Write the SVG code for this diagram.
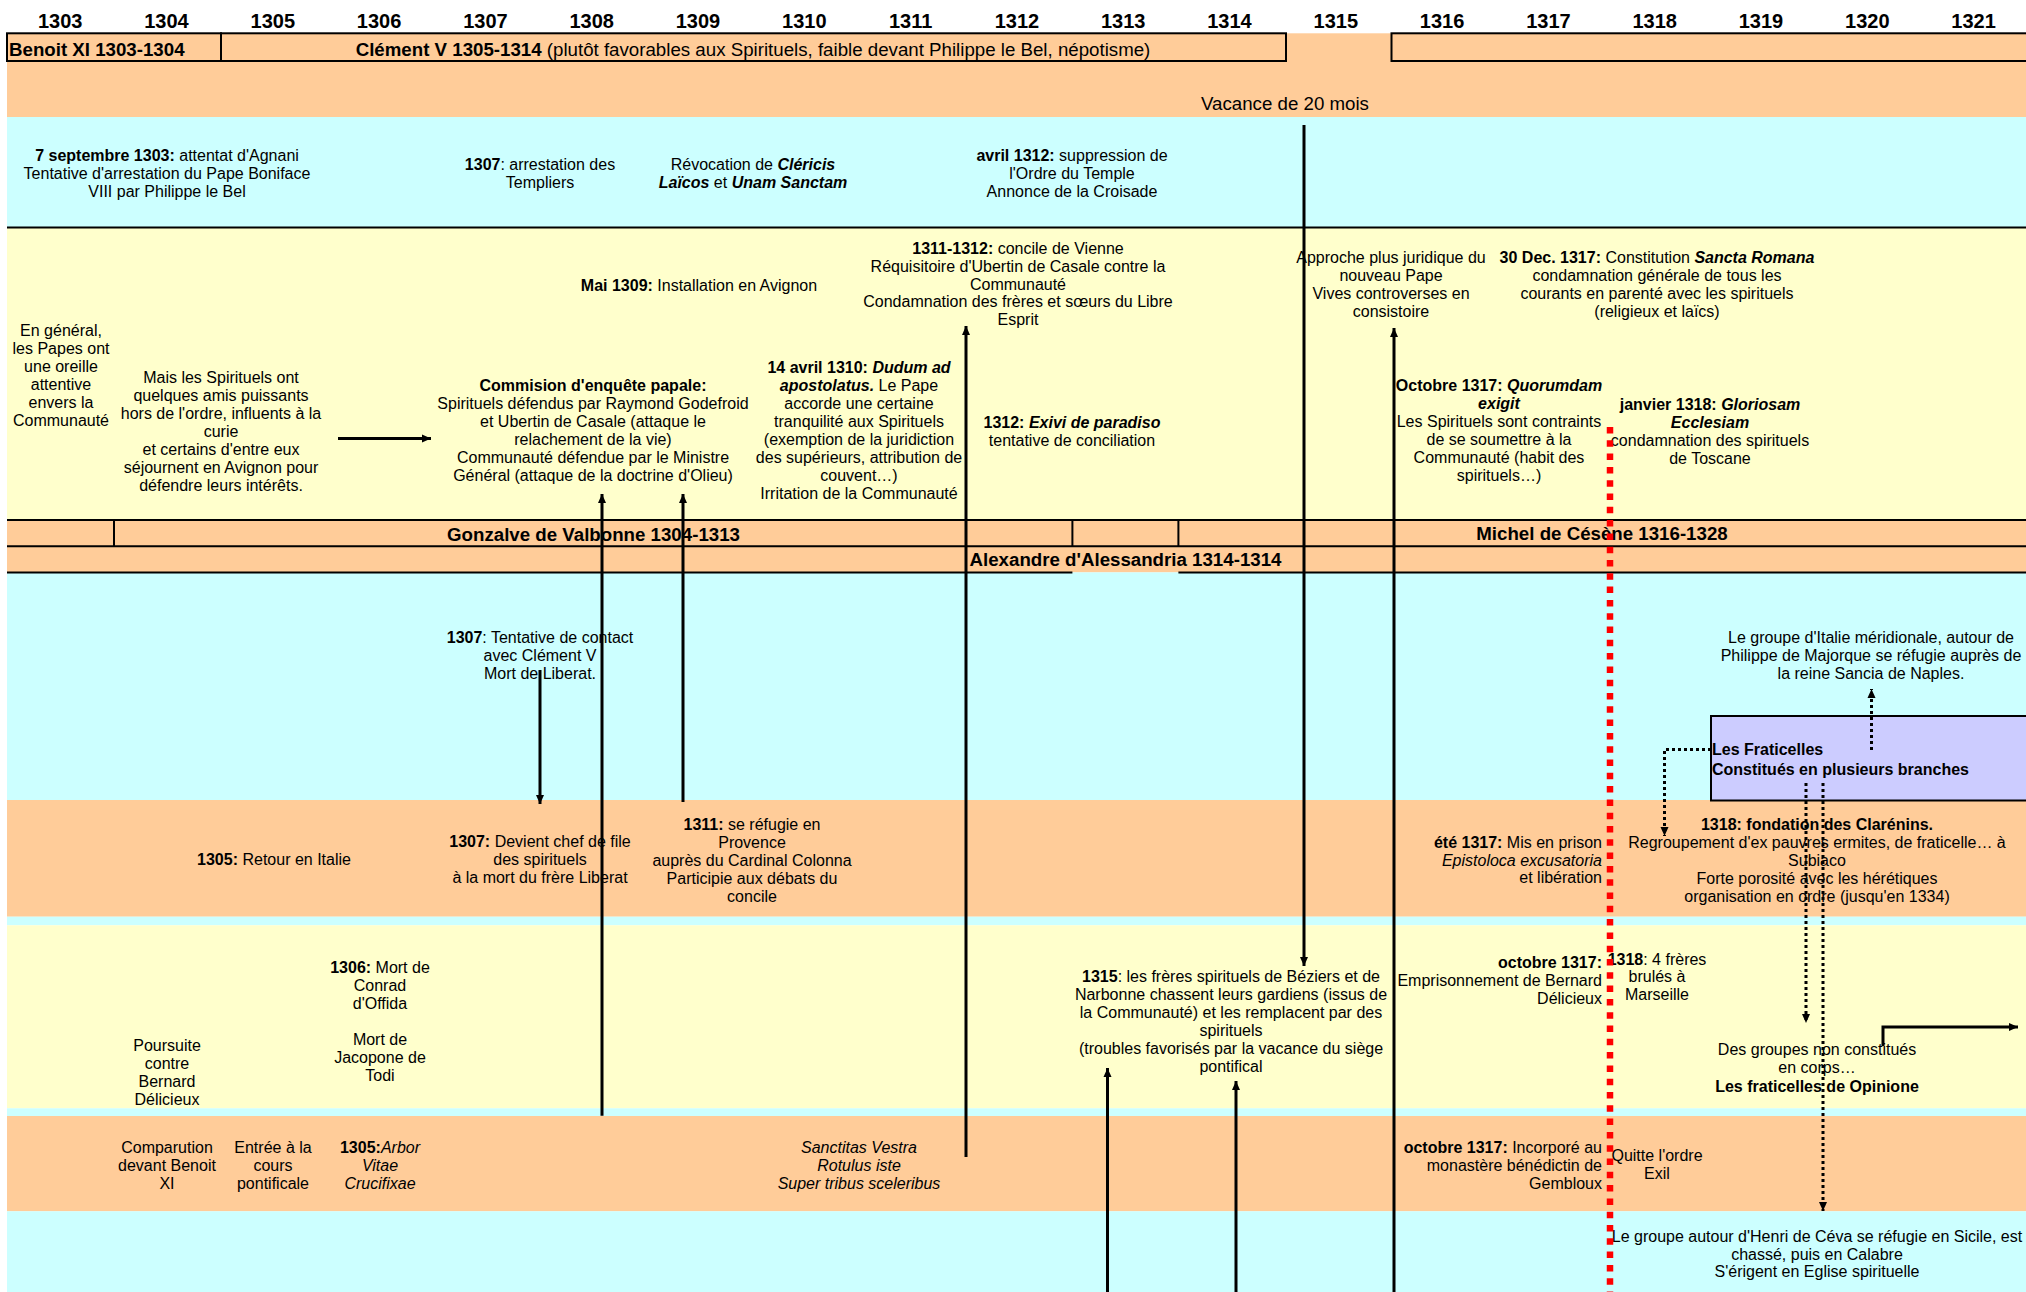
<svg xmlns="http://www.w3.org/2000/svg" width="2026" height="1292" viewBox="0 0 2026 1292">
<defs>
<style>
text{font-family:"Liberation Sans",Arial,sans-serif;font-size:16px;fill:#000}
.c{text-anchor:middle}
.r{text-anchor:end}
.b{font-weight:bold}
.i{font-style:italic}
.yr{font-size:20px;font-weight:bold;text-anchor:middle}
.h{font-size:18.7px}
.or{fill:#FFCC99}
.bl{fill:#CCFFFF}
.ye{fill:#FFFFCC}
.ln{stroke:#000;stroke-width:2;fill:none}
.ar{stroke:#000;stroke-width:3;fill:none;marker-end:url(#ah)}
.dt{stroke:#000;stroke-width:3;stroke-dasharray:3 3;fill:none;marker-end:url(#ah)}
.rd{stroke:#FF0000;stroke-width:6.5;stroke-dasharray:6.5 6.8;fill:none}
</style>
<marker id="ah" viewBox="0 0 10 10" refX="9" refY="5" markerWidth="10" markerHeight="10" markerUnits="userSpaceOnUse" orient="auto"><path d="M0,1 L9,5 L0,9 z" fill="#000"/></marker>
</defs>
<rect width="2026" height="1292" fill="#FFFFFF"/>
<g id="bands">
<rect x="7" y="33.3" width="2019" height="83.7" class="or"/>
<rect x="7" y="117" width="2019" height="110.5" class="bl"/>
<rect x="7" y="227.5" width="2019" height="292.5" class="ye"/>
<rect x="7" y="520" width="2019" height="52.4" class="or"/>
<rect x="7" y="572.4" width="2019" height="227.6" class="bl"/>
<rect x="7" y="800" width="2019" height="116.7" class="or"/>
<rect x="7" y="916.7" width="2019" height="8.6" class="bl"/>
<rect x="7" y="925.3" width="2019" height="183" class="ye"/>
<rect x="7" y="1108.3" width="2019" height="7.7" class="bl"/>
<rect x="7" y="1116" width="2019" height="95.3" class="or"/>
<rect x="7" y="1211.3" width="2019" height="80.7" class="bl"/>
<line x1="7" y1="227.5" x2="2026" y2="227.5" class="ln"/>
<line x1="7" y1="520" x2="2026" y2="520" class="ln"/>
<line x1="7" y1="546.3" x2="2026" y2="546.3" class="ln"/>
<line x1="7" y1="572.4" x2="1072.4" y2="572.4" class="ln"/>
<line x1="1178.4" y1="572.4" x2="2026" y2="572.4" class="ln"/>
<line x1="114" y1="520" x2="114" y2="546.3" class="ln"/>
<line x1="1072.4" y1="520" x2="1072.4" y2="546.3" class="ln"/>
<line x1="1178.4" y1="520" x2="1178.4" y2="546.3" class="ln"/>
</g>
<g id="years">
<text x="60.2" y="27.5" class="yr">1303</text>
<text x="166.5" y="27.5" class="yr">1304</text>
<text x="272.8" y="27.5" class="yr">1305</text>
<text x="379.1" y="27.5" class="yr">1306</text>
<text x="485.4" y="27.5" class="yr">1307</text>
<text x="591.7" y="27.5" class="yr">1308</text>
<text x="698" y="27.5" class="yr">1309</text>
<text x="804.3" y="27.5" class="yr">1310</text>
<text x="910.6" y="27.5" class="yr">1311</text>
<text x="1016.9" y="27.5" class="yr">1312</text>
<text x="1123.2" y="27.5" class="yr">1313</text>
<text x="1229.5" y="27.5" class="yr">1314</text>
<text x="1335.8" y="27.5" class="yr">1315</text>
<text x="1442.1" y="27.5" class="yr">1316</text>
<text x="1548.4" y="27.5" class="yr">1317</text>
<text x="1654.7" y="27.5" class="yr">1318</text>
<text x="1761" y="27.5" class="yr">1319</text>
<text x="1867.3" y="27.5" class="yr">1320</text>
<text x="1973.6" y="27.5" class="yr">1321</text>
</g>
<g id="pope-benoit">
<rect x="7" y="33.3" width="214" height="27.7" class="ln"/>
<text x="9" y="56" class="h b">Benoit XI 1303-1304</text>
</g>
<g id="pope-clement">
<rect x="221" y="33.3" width="1065" height="27.7" class="ln"/>
<text x="753" y="56" class="h c"><tspan class="b">Clément V 1305-1314</tspan> (plutôt favorables aux Spirituels, faible devant Philippe le Bel, népotisme)</text>
</g>
<g id="pope-next">
<rect x="1391.5" y="33.3" width="640" height="27.7" class="ln"/>
</g>
<g id="vacance">
<text x="1285" y="110" class="h c">Vacance de 20 mois</text>
</g>
<g id="general-gonzalve">
<text x="593.5" y="540.5" class="h b c">Gonzalve de Valbonne 1304-1313</text>
</g>
<g id="general-alexandre">
<text x="1125.5" y="565.7" class="h b c">Alexandre d'Alessandria 1314-1314</text>
</g>
<g id="general-michel">
<text x="1602" y="540.4" class="h b c">Michel de Césène 1316-1328</text>
</g>
<g id="ev-agnani">
<text x="167" y="160.7" class="c"><tspan class="b">7 septembre 1303:</tspan> attentat d'Agnani</text>
<text x="167" y="178.7" class="c">Tentative d'arrestation du Pape Boniface</text>
<text x="167" y="196.7" class="c">VIII par Philippe le Bel</text>
</g>
<g id="ev-templiers">
<text x="540" y="169.7" class="c"><tspan class="b">1307</tspan>: arrestation des</text>
<text x="540" y="187.7" class="c">Templiers</text>
</g>
<g id="ev-revocation">
<text x="753" y="169.7" class="c">Révocation de <tspan class="b i">Cléricis</tspan></text>
<text x="753" y="187.7" class="c"><tspan class="b i">Laïcos</tspan> et <tspan class="b i">Unam Sanctam</tspan></text>
</g>
<g id="ev-temple">
<text x="1072" y="160.7" class="c"><tspan class="b">avril 1312:</tspan> suppression de</text>
<text x="1072" y="178.7" class="c">l'Ordre du Temple</text>
<text x="1072" y="196.7" class="c">Annonce de la Croisade</text>
</g>
<g id="ev-papes">
<text x="61" y="336.3" class="c">En général,</text>
<text x="61" y="354.3" class="c">les Papes ont</text>
<text x="61" y="372.3" class="c">une oreille</text>
<text x="61" y="390.3" class="c">attentive</text>
<text x="61" y="408.3" class="c">envers la</text>
<text x="61" y="426.3" class="c">Communauté</text>
</g>
<g id="ev-amis">
<text x="221" y="383" class="c">Mais les Spirituels ont</text>
<text x="221" y="401" class="c">quelques amis puissants</text>
<text x="221" y="419" class="c">hors de l'ordre, influents à la</text>
<text x="221" y="437" class="c">curie</text>
<text x="221" y="455" class="c">et certains d'entre eux</text>
<text x="221" y="473" class="c">séjournent en Avignon pour</text>
<text x="221" y="491" class="c">défendre leurs intérêts.</text>
</g>
<g id="ev-commission">
<text x="593" y="391.3" class="c b">Commision d'enquête papale:</text>
<text x="593" y="409.3" class="c">Spirituels défendus par Raymond Godefroid</text>
<text x="593" y="427.3" class="c">et Ubertin de Casale (attaque le</text>
<text x="593" y="445.3" class="c">relachement de la vie)</text>
<text x="593" y="463.3" class="c">Communauté défendue par le Ministre</text>
<text x="593" y="481.3" class="c">Général (attaque de la doctrine d'Olieu)</text>
</g>
<g id="ev-avignon">
<text x="699" y="291" class="c"><tspan class="b">Mai 1309:</tspan> Installation en Avignon</text>
</g>
<g id="ev-vienne">
<text x="1018" y="254.3" class="c"><tspan class="b">1311-1312:</tspan> concile de Vienne</text>
<text x="1018" y="271.9" class="c">Réquisitoire d'Ubertin de Casale contre la</text>
<text x="1018" y="289.5" class="c">Communauté</text>
<text x="1018" y="307.1" class="c">Condamnation des frères et sœurs du Libre</text>
<text x="1018" y="324.7" class="c">Esprit</text>
</g>
<g id="ev-dudum">
<text x="859" y="373.3" class="c b">14 avril 1310: <tspan class="i">Dudum ad</tspan></text>
<text x="859" y="391.3" class="c"><tspan class="b i">apostolatus.</tspan> Le Pape</text>
<text x="859" y="409.3" class="c">accorde une certaine</text>
<text x="859" y="427.3" class="c">tranquilité aux Spirituels</text>
<text x="859" y="445.3" class="c">(exemption de la juridiction</text>
<text x="859" y="463.3" class="c">des supérieurs, attribution de</text>
<text x="859" y="481.3" class="c">couvent…)</text>
<text x="859" y="499.3" class="c">Irritation de la Communauté</text>
</g>
<g id="ev-exivi">
<text x="1072" y="428" class="c b">1312: <tspan class="i">Exivi de paradiso</tspan></text>
<text x="1072" y="446" class="c">tentative de conciliation</text>
</g>
<g id="ev-approche">
<text x="1391" y="262.7" class="c">Approche plus juridique du</text>
<text x="1391" y="280.7" class="c">nouveau Pape</text>
<text x="1391" y="298.7" class="c">Vives controverses en</text>
<text x="1391" y="316.7" class="c">consistoire</text>
</g>
<g id="ev-sancta">
<text x="1657" y="263.3" class="c"><tspan class="b">30 Dec. 1317:</tspan> Constitution <tspan class="b i">Sancta Romana</tspan></text>
<text x="1657" y="281.3" class="c">condamnation générale de tous les</text>
<text x="1657" y="299.3" class="c">courants en parenté avec les spirituels</text>
<text x="1657" y="317.3" class="c">(religieux et laïcs)</text>
</g>
<g id="ev-quorumdam">
<text x="1499" y="391.3" class="c b">Octobre 1317: <tspan class="i">Quorumdam</tspan></text>
<text x="1499" y="409.3" class="c b i">exigit</text>
<text x="1499" y="427.3" class="c">Les Spirituels sont contraints</text>
<text x="1499" y="445.3" class="c">de se soumettre à la</text>
<text x="1499" y="463.3" class="c">Communauté (habit des</text>
<text x="1499" y="481.3" class="c">spirituels…)</text>
</g>
<g id="ev-gloriosam">
<text x="1710" y="409.7" class="c b">janvier 1318: <tspan class="i">Gloriosam</tspan></text>
<text x="1710" y="427.7" class="c b i">Ecclesiam</text>
<text x="1710" y="445.7" class="c">condamnation des spirituels</text>
<text x="1710" y="463.7" class="c">de Toscane</text>
</g>
<g id="ev-contact">
<text x="540" y="642.5" class="c"><tspan class="b">1307</tspan>: Tentative de contact</text>
<text x="540" y="660.5" class="c">avec Clément V</text>
<text x="540" y="678.5" class="c">Mort de Liberat.</text>
</g>
<g id="ev-italie-meridionale">
<text x="1871" y="642.5" class="c">Le groupe d'Italie méridionale, autour de</text>
<text x="1871" y="660.5" class="c">Philippe de Majorque se réfugie auprès de</text>
<text x="1871" y="678.5" class="c">la reine Sancia de Naples.</text>
</g>
<g id="fraticelles">
<rect x="1711" y="716" width="330" height="84.5" fill="#CCCCFF" class="ln" style="fill:#CCCCFF"/>
<text x="1712" y="755.3" class="b">Les Fraticelles</text>
<text x="1712" y="774.7" class="b">Constitués en plusieurs branches</text>
</g>
<g id="ev-retour">
<text x="274" y="865.3" class="c"><tspan class="b">1305:</tspan> Retour en Italie</text>
</g>
<g id="ev-chef">
<text x="540" y="847" class="c"><tspan class="b">1307:</tspan> Devient chef de file</text>
<text x="540" y="865" class="c">des spirituels</text>
<text x="540" y="883" class="c">à la mort du frère Liberat</text>
</g>
<g id="ev-provence">
<text x="752" y="829.7" class="c"><tspan class="b">1311:</tspan> se réfugie en</text>
<text x="752" y="847.7" class="c">Provence</text>
<text x="752" y="865.7" class="c">auprès du Cardinal Colonna</text>
<text x="752" y="883.7" class="c">Participie aux débats du</text>
<text x="752" y="901.7" class="c">concile</text>
</g>
<g id="ev-prison">
<text x="1602" y="847.7" class="r"><tspan class="b">été 1317:</tspan> Mis en prison</text>
<text x="1602" y="865.5" class="r i">Epistoloca excusatoria</text>
<text x="1602" y="883" class="r">et libération</text>
</g>
<g id="ev-clarenins">
<text x="1817" y="829.7" class="c b">1318: fondation des Clarénins.</text>
<text x="1817" y="847.7" class="c">Regroupement d'ex pauvres ermites, de fraticelle… à</text>
<text x="1817" y="865.7" class="c">Subiaco</text>
<text x="1817" y="883.7" class="c">Forte porosité avec les hérétiques</text>
<text x="1817" y="901.7" class="c">organisation en ordre (jusqu'en 1334)</text>
</g>
<g id="ev-morts">
<text x="380" y="972.5" class="c"><tspan class="b">1306:</tspan> Mort de</text>
<text x="380" y="990.5" class="c">Conrad</text>
<text x="380" y="1008.5" class="c">d'Offida</text>
<text x="380" y="1044.5" class="c">Mort de</text>
<text x="380" y="1062.5" class="c">Jacopone de</text>
<text x="380" y="1080.5" class="c">Todi</text>
</g>
<g id="ev-poursuite">
<text x="167" y="1051" class="c">Poursuite</text>
<text x="167" y="1069" class="c">contre</text>
<text x="167" y="1087" class="c">Bernard</text>
<text x="167" y="1105" class="c">Délicieux</text>
</g>
<g id="ev-beziers">
<text x="1231" y="982" class="c"><tspan class="b">1315</tspan>: les frères spirituels de Béziers et de</text>
<text x="1231" y="1000" class="c">Narbonne chassent leurs gardiens (issus de</text>
<text x="1231" y="1018" class="c">la Communauté) et les remplacent par des</text>
<text x="1231" y="1036" class="c">spirituels</text>
<text x="1231" y="1054" class="c">(troubles favorisés par la vacance du siège</text>
<text x="1231" y="1072" class="c">pontifical</text>
</g>
<g id="ev-emprisonnement">
<text x="1602" y="968" class="r b">octobre 1317:</text>
<text x="1602" y="986" class="r">Emprisonnement de Bernard</text>
<text x="1602" y="1004" class="r">Délicieux</text>
</g>
<g id="ev-marseille">
<text x="1657" y="964.7" class="c"><tspan class="b">1318</tspan>: 4 frères</text>
<text x="1657" y="982" class="c">brulés à</text>
<text x="1657" y="999.5" class="c">Marseille</text>
</g>
<g id="ev-opinione">
<text x="1817" y="1055" class="c">Des groupes non constitués</text>
<text x="1817" y="1073" class="c">en corps…</text>
<text x="1817" y="1091.5" class="c b">Les fraticelles de Opinione</text>
</g>
<g id="ev-comparution">
<text x="167" y="1152.7" class="c">Comparution</text>
<text x="167" y="1170.7" class="c">devant Benoit</text>
<text x="167" y="1188.7" class="c">XI</text>
</g>
<g id="ev-entree">
<text x="273" y="1152.7" class="c">Entrée à la</text>
<text x="273" y="1170.7" class="c">cours</text>
<text x="273" y="1188.7" class="c">pontificale</text>
</g>
<g id="ev-arbor">
<text x="380" y="1152.7" class="c"><tspan class="b">1305:</tspan><tspan class="i">Arbor</tspan></text>
<text x="380" y="1170.7" class="c i">Vitae</text>
<text x="380" y="1188.7" class="c i">Crucifixae</text>
</g>
<g id="ev-sanctitas">
<text x="859" y="1152.7" class="c i">Sanctitas Vestra</text>
<text x="859" y="1170.7" class="c i">Rotulus iste</text>
<text x="859" y="1188.7" class="c i">Super tribus sceleribus</text>
</g>
<g id="ev-gembloux">
<text x="1602" y="1152.7" class="r"><tspan class="b">octobre 1317:</tspan> Incorporé au</text>
<text x="1602" y="1170.7" class="r">monastère bénédictin de</text>
<text x="1602" y="1188.7" class="r">Gembloux</text>
</g>
<g id="ev-exil">
<text x="1657" y="1160.7" class="c">Quitte l'ordre</text>
<text x="1657" y="1179.3" class="c">Exil</text>
</g>
<g id="ev-ceva">
<text x="1817" y="1241.7" class="c">Le groupe autour d'Henri de Céva se réfugie en Sicile, est</text>
<text x="1817" y="1260" class="c">chassé, puis en Calabre</text>
<text x="1817" y="1277" class="c">S'érigent en Eglise spirituelle</text>
</g>
<g id="connectors">
<line x1="338" y1="438.5" x2="431" y2="438.5" class="ar"/>
<line x1="1304" y1="125" x2="1304" y2="966" class="ar"/>
<line x1="966" y1="1157" x2="966" y2="326" class="ar"/>
<line x1="1394" y1="1292" x2="1394" y2="328" class="ar"/>
<line x1="602" y1="1115.7" x2="602" y2="494" class="ar"/>
<line x1="683" y1="802" x2="683" y2="494" class="ar"/>
<line x1="540" y1="670" x2="540" y2="804" class="ar"/>
<line x1="1107.5" y1="1292" x2="1107.5" y2="1068" class="ar"/>
<line x1="1236" y1="1292" x2="1236" y2="1081" class="ar"/>
<polyline points="1883,1046 1883,1027 2018,1027" class="ar"/>
<polyline points="1711,749.4 1664.5,749.4 1664.5,836" class="dt"/>
<line x1="1871.5" y1="750" x2="1871.5" y2="689" class="dt"/>
<line x1="1806" y1="783" x2="1806" y2="1023" class="dt"/>
<line x1="1823" y1="783" x2="1823" y2="1211" class="dt"/>
<line x1="1610" y1="427" x2="1610" y2="1292" class="rd"/>
</g>
</svg>
